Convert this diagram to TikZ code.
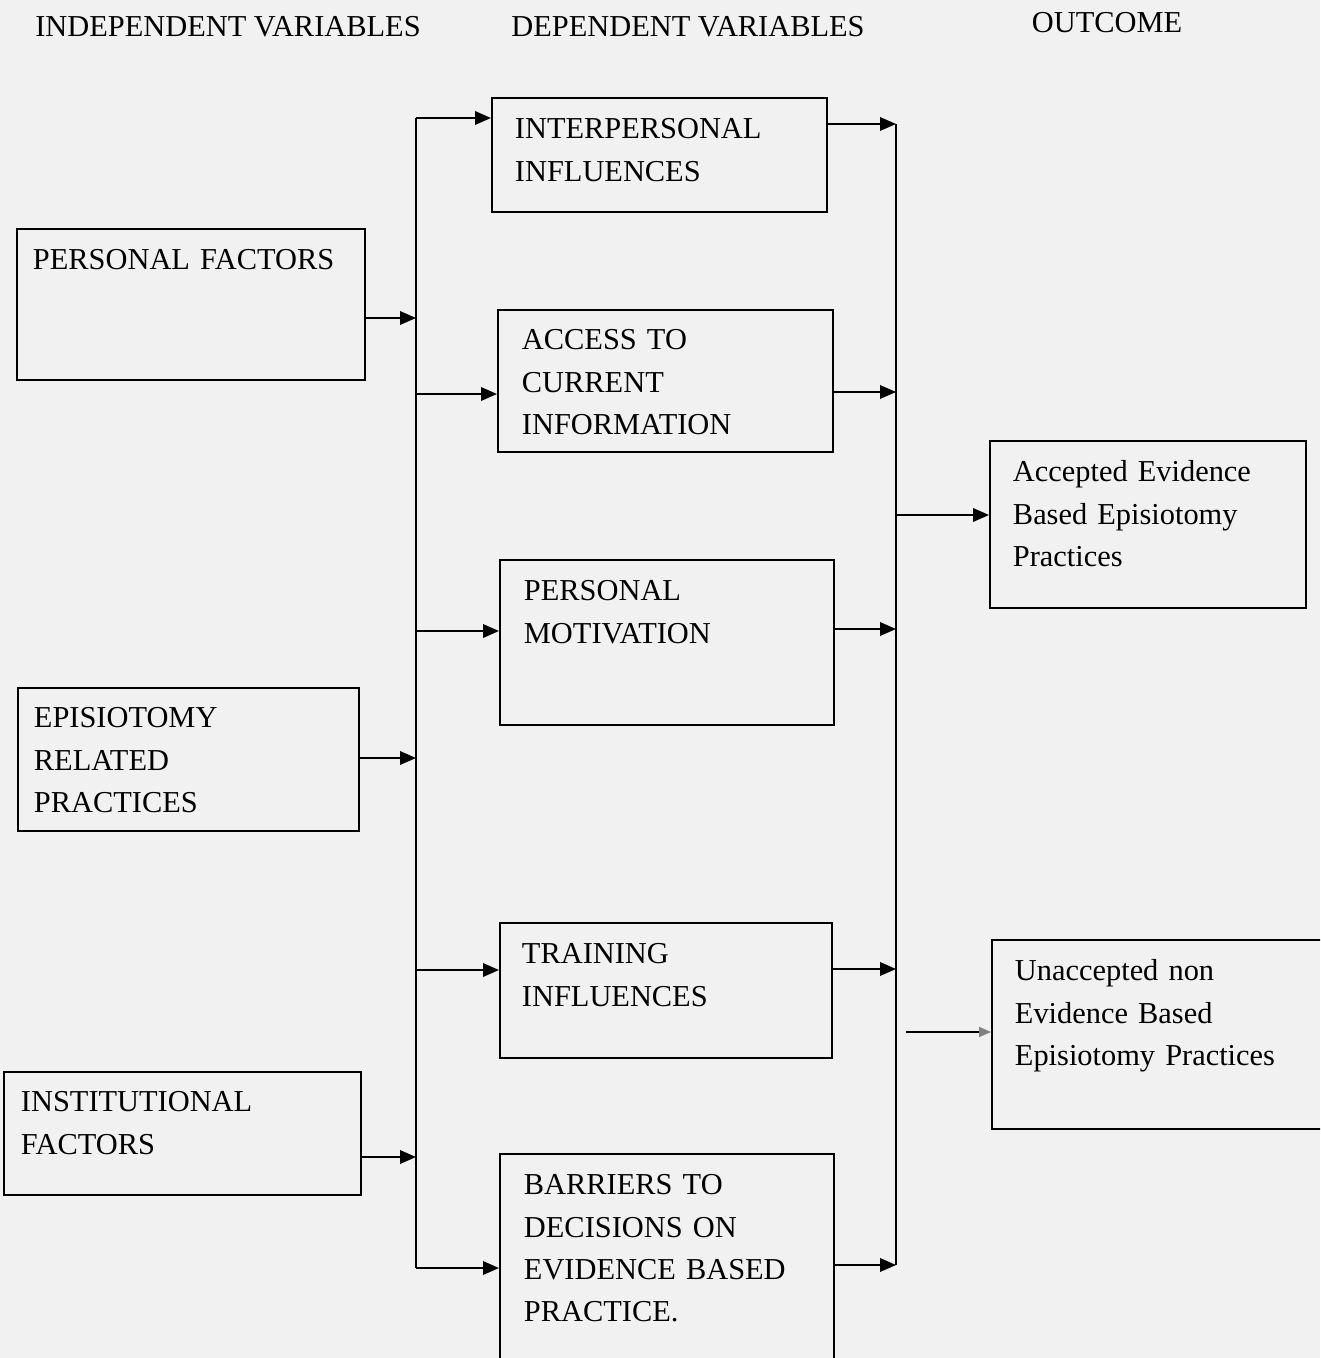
\documentclass[tikz,border=0pt]{standalone}
\usepackage{fontspec}
\setmainfont{Liberation Serif}
\usetikzlibrary{arrows.meta}
\definecolor{paper}{RGB}{241,241,241}
\tikzset{
  factor/.style={draw, line width=1.1pt, anchor=north west, align=left,
    inner ysep=0pt, font=\fontsize{17.3}{24}\selectfont},
  heading/.style={font=\fontsize{17.3}{20}\selectfont},
  arrow/.style={line width=1.1pt, -{Triangle[length=0.32cm, width=0.27cm]}},
  spine/.style={line width=1.1pt}
}

\begin{document}
\begin{tikzpicture}[x=0.02cm, y=-0.02cm]
    \useasboundingbox (0,0) rectangle (1320,1358);
    \clip (0,0) rectangle (1320,1358);
    \fill[paper] (0,0) rectangle (1320,1358);

    % Headings
    \node[heading] (hind) at (228,27) {INDEPENDENT VARIABLES};
    \node[heading] (hdep) at (688,27) {DEPENDENT VARIABLES};
    \node[heading] (hout) at (1107,23) {OUTCOME};

    % Independent variables
    \node[factor, inner xsep=0.32cm, text width=6.32cm, text height=0.82cm, text depth=2.2cm] (pf) at (16,228) {PERSONAL FACTORS};
    \node[factor, inner xsep=0.32cm, text width=6.18cm, text height=0.8cm, text depth=2.06cm] (erp) at (17,687) {EPISIOTOMY\\RELATED\\PRACTICES};
    \node[factor, inner xsep=0.34cm, text width=6.46cm, text height=0.8cm, text depth=1.66cm] (inst) at (3,1071) {INSTITUTIONAL\\FACTORS};

    % Dependent variables
    \node[factor, inner xsep=0.46cm, text width=5.78cm, text height=0.82cm, text depth=1.46cm] (ip) at (491,97) {INTERPERSONAL\\INFLUENCES};
    \node[factor, inner xsep=0.48cm, text width=5.74cm, text height=0.8cm, text depth=2.04cm] (acc) at (497,309) {ACCESS TO\\CURRENT\\INFORMATION};
    \node[factor, inner xsep=0.48cm, text width=5.72cm, text height=0.82cm, text depth=2.48cm] (mot) at (499,559) {PERSONAL\\MOTIVATION};
    \node[factor, inner xsep=0.44cm, text width=5.76cm, text height=0.82cm, text depth=1.88cm] (trn) at (499,922) {TRAINING\\INFLUENCES};
    \node[factor, inner xsep=0.48cm, text width=5.72cm, text height=0.82cm, text depth=3.62cm] (bar) at (499,1153) {BARRIERS TO\\DECISIONS ON\\EVIDENCE BASED\\PRACTICE.};

    % Outcome
    \node[factor, inner xsep=0.46cm, text width=5.4cm, text height=0.82cm, text depth=2.52cm] (acp) at (989,440) {Accepted Evidence\\Based Episiotomy\\Practices};
    \node[factor, inner xsep=0.46cm, text width=5.96cm, text height=0.82cm, text depth=2.96cm] (unacp) at (991,939) {Unaccepted non\\Evidence Based\\Episiotomy Practices};

    % Left spine
    \coordinate (l1) at (416,118);
    \coordinate (l2) at (416,318);
    \coordinate (l3) at (416,394);
    \coordinate (l4) at (416,631);
    \coordinate (l5) at (416,758);
    \coordinate (l6) at (416,970);
    \coordinate (l7) at (416,1157);
    \coordinate (l8) at (416,1268);
    \draw[spine] (l1) -- (l8);
    \draw[arrow] (pf.east |- l2) -- (l2);
    \draw[arrow] (erp.east |- l5) -- (l5);
    \draw[arrow] (inst.east |- l7) -- (l7);
    \draw[arrow] (l1) -- (l1 -| ip.west);
    \draw[arrow] (l3) -- (l3 -| acc.west);
    \draw[arrow] (l4) -- (l4 -| mot.west);
    \draw[arrow] (l6) -- (l6 -| trn.west);
    \draw[arrow] (l8) -- (l8 -| bar.west);

    % Right spine
    \coordinate (r1) at (896,124);
    \coordinate (r2) at (896,392);
    \coordinate (r3) at (896,515);
    \coordinate (r4) at (896,629);
    \coordinate (r5) at (896,969);
    \coordinate (r6) at (896,1265);
    \coordinate (u) at (906,1032);
    \draw[spine] (r1) -- (r6);
    \draw[arrow] (ip.east |- r1) -- (r1);
    \draw[arrow] (acc.east |- r2) -- (r2);
    \draw[arrow] (mot.east |- r4) -- (r4);
    \draw[arrow] (trn.east |- r5) -- (r5);
    \draw[arrow] (bar.east |- r6) -- (r6);
    \draw[arrow] (r3) -- (r3 -| acp.west);
    \draw[line width=0.8pt, -{Triangle[length=0.24cm, width=0.2cm, color=gray]}] (u) -- (u -| unacp.west);
\end{tikzpicture}
\end{document}
